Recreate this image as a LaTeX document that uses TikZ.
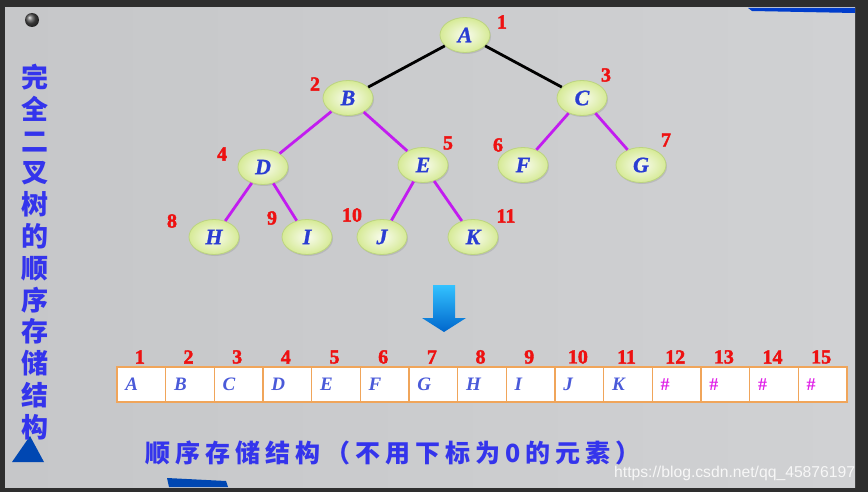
\documentclass[tikz,border=0pt]{standalone}
\usepackage{fontspec}
\setmainfont{Liberation Serif}[BoldFont={Liberation Serif Bold}, ItalicFont={Liberation Serif Italic}, BoldItalicFont={Liberation Serif Bold Italic}]
\newfontfamily\cjk{Noto Sans CJK SC}
\newfontfamily\wmfont{Liberation Sans}
\usetikzlibrary{shapes.geometric,positioning,shadows}

\definecolor{slate}{HTML}{C6C7C9}
\definecolor{slateL}{HTML}{D0D1D3}
\definecolor{frame}{HTML}{2E2E2E}
\definecolor{letterblue}{HTML}{2A3DD2}
\definecolor{idxred}{HTML}{EE1111}
\definecolor{branch}{HTML}{C21CF0}
\definecolor{cellline}{HTML}{F0A55A}
\definecolor{hashpink}{HTML}{E020E8}
\definecolor{titleblue}{HTML}{3434EC}
\definecolor{yolk}{HTML}{D6EA96}
\definecolor{yolkline}{HTML}{BCD480}

\begin{document}
\begin{tikzpicture}[x=1pt,y=-1pt,
    vertex/.style={ellipse, draw=yolkline, line width=0.8pt, inner color=white!85!yolk, outer color=yolk,
        minimum width=50pt, minimum height=35pt, inner sep=0pt,
        font=\bfseries\itshape\addfontfeature{FakeBold=1}\fontsize{22}{22}\selectfont, text=letterblue,
        drop shadow={shadow xshift=1pt, shadow yshift=-1.5pt, opacity=0.25}},
    idx/.style={text=idxred, font=\bfseries\addfontfeature{FakeBold=2}\fontsize{20}{20}\selectfont, inner sep=1pt},
    trunk/.style={draw=black, line width=2.8pt},
    twig/.style={draw=branch, line width=2.8pt},
    cell/.style={rectangle, draw=cellline, line width=1.3pt, fill=white,
        minimum height=35pt, text width=32pt, inner xsep=8.3pt, inner ysep=0pt,
        align=left, font=\bfseries\itshape\fontsize{19}{19}\selectfont},
    cjktext/.style={text=titleblue, font=\cjk\bfseries\fontsize{27}{31.8}\selectfont}
]
\useasboundingbox (0,0) rectangle (868,492);
% backdrop
\fill[frame] (0,0) rectangle (868,492);
\shade[left color=slate, right color=slateL] (5,8) rectangle (855,487);
\shade[ball color=gray!60!black] (32,20) circle (7);
\fill[blue!70!cyan!80!black] (748,8) -- (855,8) -- (855,13) -- (752,11) -- cycle;
\fill[blue!60!cyan!70!black] (30,436) -- (44,462) -- (12,462) -- cycle;
\fill[blue!60!cyan!70!black] (167,478) -- (226,481) -- (228,487) -- (169,487) -- cycle;

% tree
\node[vertex] (A) at (465,35) {A};
\node[vertex] (B) at (348,98) {B};
\node[vertex] (C) at (582,98) {C};
\node[vertex] (D) at (263,167) {D};
\node[vertex] (E) at (423,165) {E};
\node[vertex] (F) at (523,165) {F};
\node[vertex] (G) at (641,165) {G};
\node[vertex] (H) at (214,237) {H};
\node[vertex] (I) at (307,237) {I};
\node[vertex] (J) at (382,237) {J};
\node[vertex] (K) at (473,237) {K};

\draw[trunk] (A) -- (B);
\draw[trunk] (A) -- (C);
\draw[twig] (B) -- (D);
\draw[twig] (B) -- (E);
\draw[twig] (C) -- (F);
\draw[twig] (C) -- (G);
\draw[twig] (D) -- (H);
\draw[twig] (D) -- (I);
\draw[twig] (E) -- (J);
\draw[twig] (E) -- (K);

\node[idx] (n1) at (502,22) {1};
\node[idx] (n2) at (315,84) {2};
\node[idx] (n3) at (606,75) {3};
\node[idx] (n4) at (222,154) {4};
\node[idx] (n5) at (448,143) {5};
\node[idx] (n6) at (498,145) {6};
\node[idx] (n7) at (666,140) {7};
\node[idx] (n8) at (172,221) {8};
\node[idx] (n9) at (272,218) {9};
\node[idx] (n10) at (352,215) {10};
\node[idx] (n11) at (506,216) {11};

% arrow down to the array
\shade[top color=cyan!70!blue!80, bottom color=blue!50!cyan!80!black]
    (433,285) -- (455,285) -- (455,318) -- (466,318) -- (444,332) -- (422,318) -- (433,318) -- cycle;

% array
\foreach \t [count=\i] in {A,B,C,D,E,F,G,H,I,J,K}
    \node[cell, text=letterblue!85!white] (c\i) at (117+48.67*\i-24.33,384.5) {\t};
\foreach \i in {12,...,15}
    \node[cell, text=hashpink, font=\bfseries\fontsize{18}{18}\selectfont] (c\i) at (117+48.67*\i-24.33,384.5) {\#};
\foreach \i in {1,...,15}
    \node[idx, above=1.5pt of c\i, xshift=-1.5pt] (i\i) {\i};

% captions
\node[cjktext, align=center] (side) at (35,252) {完\\全\\二\\叉\\树\\的\\顺\\序\\存\\储\\结\\构};
\node[cjktext, font=\cjk\bfseries\addfontfeature{LetterSpace=20}\fontsize{25}{25}\selectfont, anchor=west, inner sep=0pt] (cap) at (145,453) {顺序存储结构（不用下标为0的元素）};
\node[text=white!94!gray, font=\wmfont\fontsize{15.7}{15.7}\selectfont, anchor=base west, inner sep=0pt] (wm) at (614,477) {https://blog.csdn.net/qq\_45876197};
\end{tikzpicture}
\end{document}
